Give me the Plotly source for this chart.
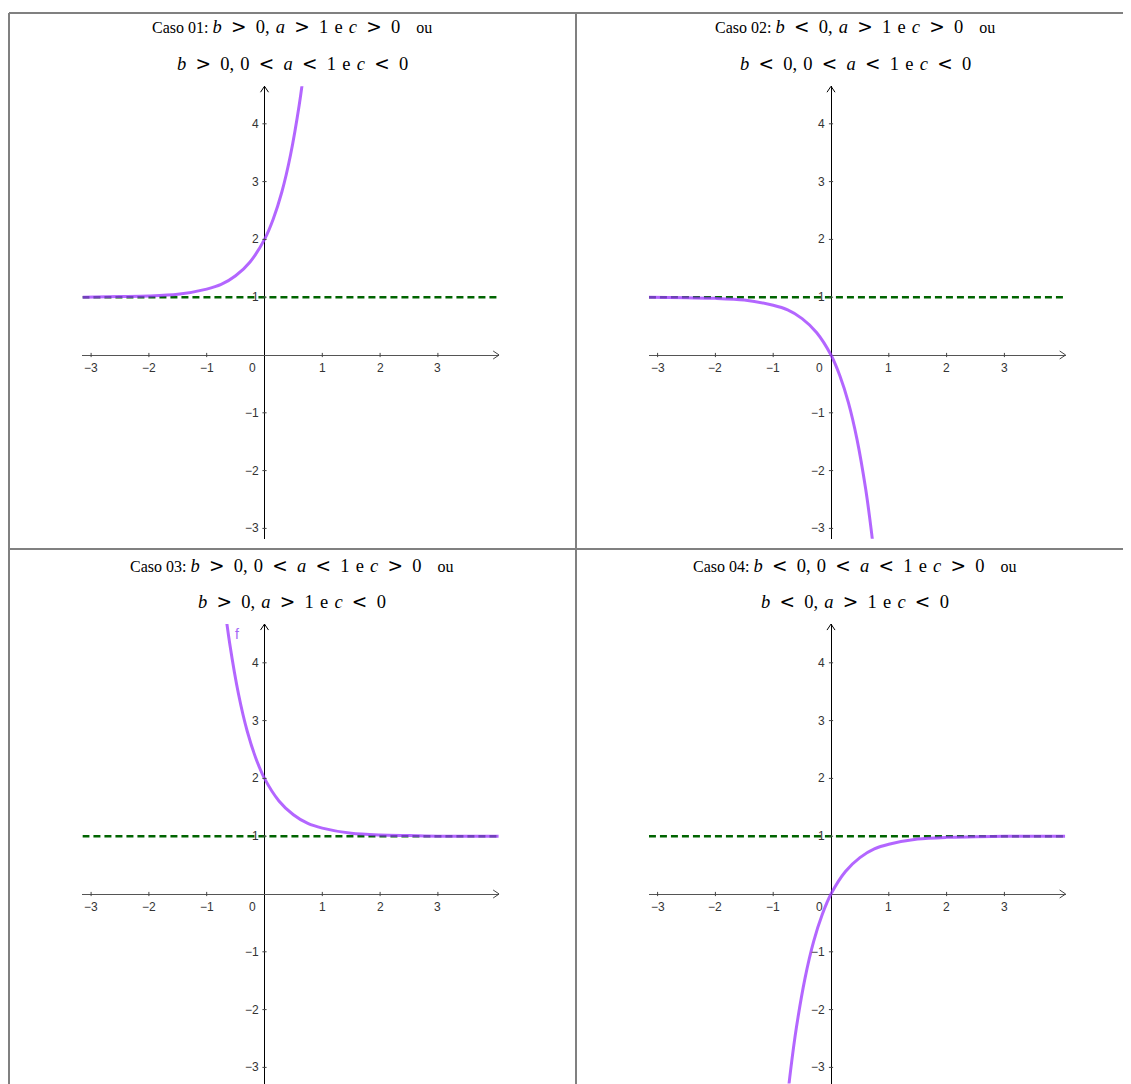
import plotly.graph_objects as go

W, H = 1131, 1084
OFF = 8  # margem do <body> da página: tudo é deslocado 8 px
FW, FH = W - OFF, H - OFF

# valores: f(x) = b*a^x + c, assíntota y = 1
x_cresc = [-3.15, -2.5, -2.0, -1.5, -1.0, -0.75, -0.5, -0.25, 0.0, 0.15, 0.3, 0.45, 0.6, 0.7, 0.8]
y_caso01 = [1.00, 1.01, 1.02, 1.05, 1.14, 1.22, 1.37, 1.61, 2.00, 2.35, 2.82, 3.46, 4.32, 5.06, 5.95]
y_caso02 = [1.00, 0.99, 0.98, 0.95, 0.86, 0.78, 0.63, 0.39, 0.00, -0.35, -0.82, -1.46, -2.32, -3.06, -3.95]

x_decr = [-0.8, -0.7, -0.6, -0.45, -0.3, -0.15, 0.0, 0.25, 0.5, 0.75, 1.0, 1.5, 2.0, 2.5, 3.0, 4.05]
y_caso03 = [5.95, 5.06, 4.32, 3.46, 2.82, 2.35, 2.00, 1.61, 1.37, 1.22, 1.14, 1.05, 1.02, 1.01, 1.00, 1.00]
y_caso04 = [-3.95, -3.06, -2.32, -1.46, -0.82, -0.35, 0.00, 0.39, 0.63, 0.78, 0.86, 0.95, 0.98, 0.99, 1.00, 1.00]

assintota_x = [-3.15, 4.06]
assintota_y = [1, 1]

x_ticks = [-3, -2, -1, 1, 2, 3]
x_tick_labels = ["−3", "−2", "−1", "1", "2", "3"]
y_ticks = [-3, -2, -1, 1, 2, 3, 4]
y_tick_labels = ["−3", "−2", "−1", "1", "2", "3", "4"]

# condições de cada caso (linha 1, linha 2)
condicoes = [
    ("b > 0, a > 1 e c > 0", "b > 0, 0 < a < 1 e c < 0"),
    ("b < 0, a > 1 e c > 0", "b < 0, 0 < a < 1 e c < 0"),
    ("b > 0, 0 < a < 1 e c > 0", "b > 0, a > 1 e c < 0"),
    ("b < 0, 0 < a < 1 e c > 0", "b < 0, a > 1 e c < 0"),
]
casos = ["Caso 01:", "Caso 02:", "Caso 03:", "Caso 04:"]


def matematica(expr):
    """Converte a condição em texto de equação: variáveis em itálico, relações espaçadas."""
    rel = '\u2002<span style="font-family:DejaVu Serif">{}</span>\u2002'
    partes = []
    for tok in expr.split(" "):
        if tok in (">", "<"):
            partes.append(rel.format("&gt;" if tok == ">" else "&lt;"))
        elif tok == "e":
            partes.append("\u2004e\u2004")
        else:
            nome = tok.rstrip(",")
            if nome in ("a", "b", "c"):
                nome = "<i>" + nome + "</i>"
            partes.append(nome + (",\u2004" if tok.endswith(",") else ""))
    return '<span style="font-size:18.5px">' + "".join(partes) + "</span>"


ROXO = "rgba(153,51,255,0.75)"
VERDE = "#006400"
UNID = 57.8

# origem (px) e faixa de y de cada painel
paineis = [
    dict(ox=264.5, oy=355, ymin=-3.18, ymax=4.65, cx=292, ty=(26, 64), xs=x_cresc, ys=y_caso01),
    dict(ox=831, oy=355, ymin=-3.18, ymax=4.65, cx=855, ty=(26, 64), xs=x_cresc, ys=y_caso02),
    dict(ox=264.5, oy=894, ymin=-3.28, ymax=4.67, cx=292, ty=(565, 602), xs=x_decr, ys=y_caso03),
    dict(ox=831, oy=894, ymin=-3.28, ymax=4.67, cx=855, ty=(565, 602), xs=x_decr, ys=y_caso04),
]
XMIN, XMAX = -3.15, 4.06
FONTE_EIXO = dict(family="Liberation Sans", size=12, color="#333")


def px(xp):
    return (xp - OFF) / FW


def py(yp):
    return 1 - (yp - OFF) / FH


fig = go.Figure()
annotations = []
shapes = []

for i, p in enumerate(paineis, start=1):
    sx = "" if i == 1 else str(i)
    xref, yref = "x" + sx, "y" + sx

    # --- assíntota e curva ---
    fig.add_trace(go.Scatter(
        x=assintota_x, y=assintota_y, xaxis=xref, yaxis=yref, mode="lines",
        line=dict(color=VERDE, width=2.5, dash="7px,4px"), hoverinfo="skip",
    ))
    fig.add_trace(go.Scatter(
        x=p["xs"], y=p["ys"], xaxis=xref, yaxis=yref, mode="lines",
        line=dict(color=ROXO, width=3, shape="spline", smoothing=0.8),
    ))

    # --- marcas dos eixos ---
    fig.add_trace(go.Scatter(
        x=x_ticks, y=[0] * len(x_ticks), xaxis=xref, yaxis=yref, mode="markers",
        marker=dict(symbol="line-ns", size=3, line=dict(width=1, color="#444")),
        hoverinfo="skip",
    ))
    fig.add_trace(go.Scatter(
        x=[0] * len(y_ticks), y=y_ticks, xaxis=xref, yaxis=yref, mode="markers",
        marker=dict(symbol="line-ew", size=3, line=dict(width=1, color="#444")),
        hoverinfo="skip",
    ))

    for v, t in zip(x_ticks, x_tick_labels):
        annotations.append(dict(x=v, y=0, xref=xref, yref=yref, text=t, showarrow=False,
                                yshift=-13, font=FONTE_EIXO))
    for v, t in zip(y_ticks, y_tick_labels):
        annotations.append(dict(x=0, y=v, xref=xref, yref=yref, text=t, showarrow=False,
                                xanchor="right", xshift=-4, font=FONTE_EIXO))
    annotations.append(dict(x=0, y=0, xref=xref, yref=yref, text="0", showarrow=False,
                            xshift=-12, yshift=-13, font=FONTE_EIXO))

    # setas nas pontas dos eixos
    shapes.append(dict(type="path", xref=xref, yref=yref, xsizemode="pixel", ysizemode="pixel",
                       xanchor=XMAX, yanchor=0, path="M-6,4 L0,0 L-6,-4",
                       line=dict(color="#444", width=1)))
    shapes.append(dict(type="path", xref=xref, yref=yref, xsizemode="pixel", ysizemode="pixel",
                       xanchor=0, yanchor=p["ymax"], path="M-4,-6 L0,0 L4,-6",
                       line=dict(color="black", width=1)))

    # --- títulos ---
    linha1 = casos[i - 1] + " " + matematica(condicoes[i - 1][0]) + "\u2003ou"
    linha2 = matematica(condicoes[i - 1][1])
    for linha, ty in zip((linha1, linha2), p["ty"]):
        annotations.append(dict(x=px(p["cx"]), y=py(ty), xref="paper", yref="paper",
                                text=linha, showarrow=False, xanchor="center", yanchor="middle",
                                font=dict(family="Liberation Serif", size=16, color="black")))

    # --- eixos ---
    x0 = p["ox"] + XMIN * UNID
    x1 = p["ox"] + XMAX * UNID
    ytop = p["oy"] - p["ymax"] * UNID
    ybot = p["oy"] - p["ymin"] * UNID
    eixo = dict(showgrid=False, showticklabels=False, ticks="", showline=False, zeroline=True)
    fig.update_layout(**{
        "xaxis" + sx: dict(eixo, domain=[px(x0), px(x1)], range=[XMIN, XMAX],
                           zerolinecolor="black", zerolinewidth=1, anchor=yref),
        "yaxis" + sx: dict(eixo, domain=[max(0, py(ybot)), py(ytop)],
                           range=[p["ymin"], p["ymax"]],
                           zerolinecolor="#555", zerolinewidth=1, anchor=xref),
    })

# rótulo "f" no caso 03
annotations.append(dict(x=-0.47, y=4.5, xref="x3", yref="y3", text="f", showarrow=False,
                        font=dict(family="Liberation Sans", size=14, color="#a366f5")))

# --- bordas da tabela ---
BORDA = dict(color="#808080", width=2)
for (a, b, c, d) in [(9, 13, W, 13), (9, 549, W, 549), (9, 13, 9, H), (576, 13, 576, H)]:
    shapes.append(dict(type="line", xref="paper", yref="paper",
                       x0=px(a), y0=py(b), x1=px(c), y1=py(d), line=BORDA))

fig.update_layout(
    width=FW, height=FH,
    margin=dict(l=0, r=0, t=0, b=0),
    paper_bgcolor="white", plot_bgcolor="white",
    showlegend=False,
    annotations=annotations,
    shapes=shapes,
)

fig.write_html("out.html")
